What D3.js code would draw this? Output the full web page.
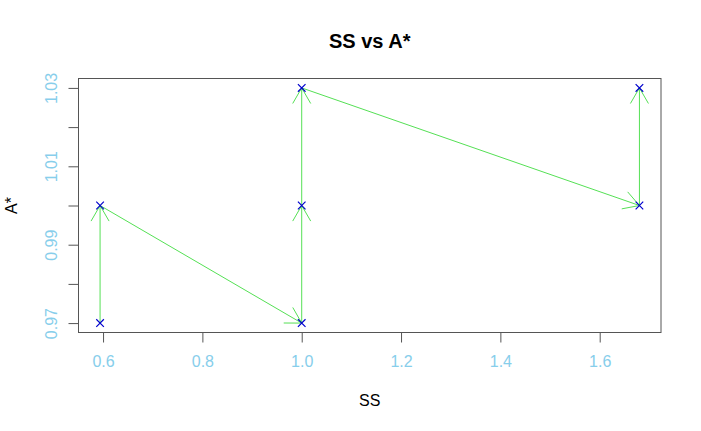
<!DOCTYPE html>
<html>
<head>
<meta charset="utf-8">
<script src="https://cdn.jsdelivr.net/npm/d3@7"></script>
<style>
body { margin: 0; background: #fff; }
svg { display: block; font-family: "Liberation Sans", Arial, Helvetica, sans-serif; }
</style>
</head>
<body>
<svg id="chart" width="701" height="431"></svg>
<script>
const ssValues = [0.594, 0.594, 1.0, 1.0, 1.0, 1.68, 1.68];
const aStarValues = [0.97, 1.00, 0.97, 1.00, 1.03, 1.00, 1.03];
const xTicks = [0.6, 0.8, 1.0, 1.2, 1.4, 1.6];
const xTickLabels = ["0.6", "0.8", "1.0", "1.2", "1.4", "1.6"];
const yTicks = [0.97, 0.98, 0.99, 1.00, 1.01, 1.02, 1.03];
const yTickLabels = ["0.97", "", "0.99", "", "1.01", "", "1.03"];
const titleText = "SS vs A*";
const xLabel = "SS";
const yLabel = "A*";

const W = 701, H = 431;
const plot = { left: 78.5, right: 661, top: 78.5, bottom: 332.5 };
const svg = d3.select("#chart");

function ext(arr) {
  const [a, b] = d3.extent(arr);
  const d = (b - a) * 0.04;
  return [a - d, b + d];
}
const x = d3.scaleLinear().domain(ext(ssValues)).range([plot.left, plot.right]);
const y = d3.scaleLinear().domain(ext(aStarValues)).range([plot.bottom, plot.top]);

const labelColor = "#87CEEB";
const axisColor = "#555";
const tickFont = "16px";

// x axis
const xAxis = d3.axisBottom(x).tickValues(xTicks).tickFormat((d, i) => xTickLabels[i]).tickSize(10).tickPadding(13);
const gx = svg.append("g").attr("transform", `translate(0,${plot.bottom})`).call(xAxis);
gx.select(".domain").attr("d", `M${x(xTicks[0])},0H${x(xTicks[xTicks.length-1])}`).attr("stroke", axisColor);
gx.selectAll(".tick line").attr("stroke", axisColor);
gx.selectAll(".tick text").attr("fill", labelColor).style("font-size", tickFont).style("font-family", "Liberation Sans, Arial, sans-serif");

// y axis
const yAxis = d3.axisLeft(y).tickValues(yTicks).tickFormat((d, i) => yTickLabels[i]).tickSize(10).tickPadding(0);
const gy = svg.append("g").attr("transform", `translate(${plot.left},0)`).call(yAxis);
gy.select(".domain").attr("d", `M0,${y(yTicks[0])}V${y(yTicks[yTicks.length-1])}`).attr("stroke", axisColor);
gy.selectAll(".tick line").attr("stroke", axisColor);
gy.selectAll(".tick text")
  .attr("fill", labelColor)
  .attr("x", 0).attr("dy", null).attr("dx", null)
  .attr("text-anchor", "middle")
  .attr("transform", "translate(-22,0) rotate(-90)")
  .attr("y", 0)
  .style("font-size", tickFont).style("font-family", "Liberation Sans, Arial, sans-serif");

// box
svg.append("rect").attr("x", plot.left).attr("y", plot.top)
  .attr("width", plot.right - plot.left).attr("height", plot.bottom - plot.top)
  .attr("fill", "none").attr("stroke", axisColor).attr("stroke-width", 1);

// arrows
const arrowColor = "#55e055";
const headLen = 18, headAng = Math.PI / 6;
const gArr = svg.append("g");
for (let i = 0; i < ssValues.length - 1; i++) {
  const x0 = x(ssValues[i]), y0 = y(aStarValues[i]);
  const x1 = x(ssValues[i + 1]), y1 = y(aStarValues[i + 1]);
  gArr.append("line").attr("x1", x0).attr("y1", y0).attr("x2", x1).attr("y2", y1)
    .attr("stroke", arrowColor).attr("stroke-width", 1);
  const ang = Math.atan2(y1 - y0, x1 - x0);
  [1, -1].forEach(s => {
    const a = ang + Math.PI + s * headAng;
    gArr.append("line").attr("x1", x1).attr("y1", y1)
      .attr("x2", x1 + headLen * Math.cos(a)).attr("y2", y1 + headLen * Math.sin(a))
      .attr("stroke", arrowColor).attr("stroke-width", 1);
  });
}

// points (pch 4)
const r = 3.8;
const gPts = svg.append("g");
ssValues.forEach((v, i) => {
  const cx = x(v), cy = y(aStarValues[i]);
  gPts.append("path")
    .attr("d", `M${cx - r},${cy - r}L${cx + r},${cy + r}M${cx - r},${cy + r}L${cx + r},${cy - r}`)
    .attr("stroke", "#0000CD").attr("stroke-width", 1.2).attr("fill", "none");
});

// title & labels
svg.append("text").attr("x", (plot.left + plot.right) / 2).attr("y", 48)
  .attr("text-anchor", "middle").style("font-size", "20px").style("font-weight", "bold")
  .attr("fill", "#000").text(titleText);
svg.append("text").attr("x", (plot.left + plot.right) / 2).attr("y", 406)
  .attr("text-anchor", "middle").style("font-size", "16px").attr("fill", "#000").text(xLabel);
svg.append("text").attr("transform", `translate(17,${(plot.top + plot.bottom) / 2}) rotate(-90)`)
  .attr("text-anchor", "middle").style("font-size", "16px").attr("fill", "#000").text(yLabel);
</script>
</body>
</html>
